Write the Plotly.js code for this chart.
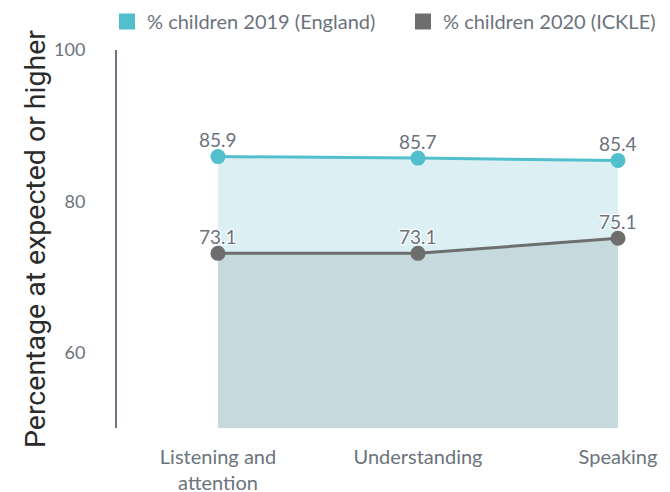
<!DOCTYPE html>
<html><head><meta charset="utf-8">
<script src="https://cdn.plot.ly/plotly-3.0.1.min.js"></script>
<style>html,body{margin:0;padding:0;background:#fff}#chart{width:670px;height:492px}</style>
</head><body><div id="chart"></div>
<script>
const categories = ["Listening and<br>attention", "Understanding", "Speaking"];
const seriesNames = ["% children 2019 (England)", "% children 2020 (ICKLE)"];
const england2019 = [85.9, 85.7, 85.4];
const ickle2020 = [73.1, 73.1, 75.1];
const yTicks = [60, 80, 100];

const tealLine = "#52bfcc", tealFill = "#dcf0f4";
const grayLine = "#6e6e6e", grayFill = "#c6d9dc";
const textColor = "#6b737d";
const halo = "1px 1px 1px #fff, -1px -1px 1px #fff, 1px -1px 1px #fff, -1px 1px 1px #fff";

const traces = [
  {x: categories, y: england2019, type: "scatter", mode: "lines+markers",
   fill: "tozeroy", fillcolor: tealFill, line: {color: tealLine, width: 3},
   marker: {color: tealLine, size: 15}, showlegend: false, cliponaxis: false, hoverinfo: "skip"},
  {x: categories, y: ickle2020, type: "scatter", mode: "lines+markers",
   fill: "tozeroy", fillcolor: grayFill, line: {color: grayLine, width: 3},
   marker: {color: grayLine, size: 15}, showlegend: false, cliponaxis: false, hoverinfo: "skip"},
  {x: [categories[0]], y: [null], type: "scatter", mode: "markers", name: seriesNames[0],
   marker: {color: tealLine, size: 19, symbol: "square"}, showlegend: true, legend: "legend"},
  {x: [categories[0]], y: [null], type: "scatter", mode: "markers", name: seriesNames[1],
   marker: {color: grayLine, size: 19, symbol: "square"}, showlegend: true, legend: "legend2"}
];

const labelFont = {family: "Lato", size: 19, color: textColor, shadow: halo};
const annotations = [];
[england2019, ickle2020].forEach(series => {
  series.forEach((v, i) => {
    annotations.push({x: categories[i], y: v, xref: "x", yref: "y", text: v.toFixed(1),
      showarrow: false, yanchor: "middle", xanchor: "center", yshift: 17, font: labelFont});
  });
});

const legendCommon = {orientation: "h", xanchor: "left", xref: "container",
  y: 1 - 21.5 / 492, yanchor: "middle", yref: "container",
  font: {family: "Lato", size: 20, color: textColor}, itemclick: false, bgcolor: "rgba(0,0,0,0)"};

const layout = {
  width: 670, height: 492,
  margin: {l: 117, r: 0, t: 50, b: 64},
  paper_bgcolor: "#fff", plot_bgcolor: "#fff",
  font: {family: "Lato", color: textColor},
  showlegend: true,
  legend: Object.assign({}, legendCommon, {x: 107 / 670}),
  legend2: Object.assign({}, legendCommon, {x: 403 / 670}),
  annotations: annotations,
  xaxis: {type: "category", range: [-0.505, 2.26], showgrid: false, zeroline: false, showline: false,
          ticks: "", ticklabelstandoff: 15, tickfont: {family: "Lato", size: 20, color: textColor}, fixedrange: true},
  yaxis: {range: [50, 100], tickvals: yTicks, showgrid: false, zeroline: false,
          showline: true, linecolor: "#6c7580", linewidth: 2, ticks: "",
          ticklabelstandoff: 26,
          tickfont: {family: "Lato", size: 18, color: textColor},
          title: {text: "Percentage at expected or higher", font: {family: "Roboto", size: 28.5, color: "#2b2b2b"}, standoff: 0},
          fixedrange: true}
};
Plotly.newPlot("chart", traces, layout, {displayModeBar: false, staticPlot: true});
</script></body></html>
